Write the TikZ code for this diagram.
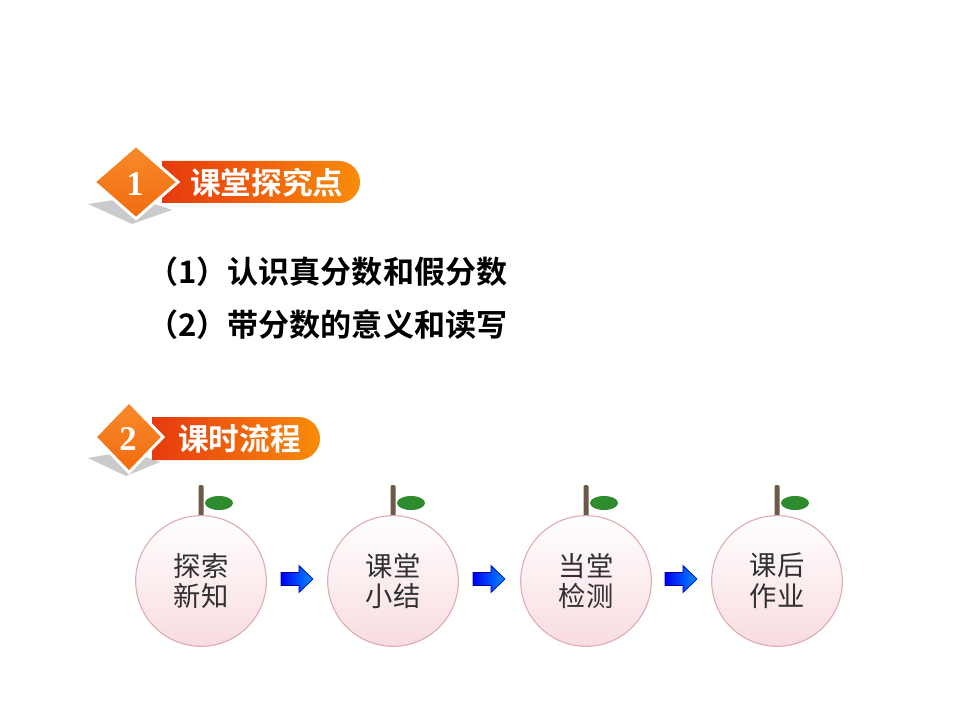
\documentclass[tikz,border=0pt]{standalone}
\usepackage{fontspec}
\newfontfamily\cjk{Noto Sans CJK SC}
\newfontfamily\cjkb{Noto Sans CJK SC Bold}
\setmainfont{Liberation Serif}
\usetikzlibrary{shapes.geometric,shadings}
\definecolor{barred}{HTML}{E63A0E}
\definecolor{barorange}{HTML}{F98C0A}
\definecolor{diaor}{HTML}{F26A0E}
\definecolor{diaor2}{HTML}{F78C2C}
\definecolor{pinkedge}{HTML}{E2A9AE}
\definecolor{pinkfill}{HTML}{F8DCE0}
\definecolor{stem}{HTML}{6B5A4A}
\definecolor{leaf}{HTML}{2E8B2E}
\definecolor{txtgray}{HTML}{303030}
\tikzset{
  bartitle/.style={text=white,font=\cjkb\fontsize{23}{26}\selectfont,anchor=west,inner sep=0},
  digit/.style={text=white,font=\bfseries\fontsize{26}{28}\selectfont,inner sep=0},
  item/.style={text=black,font=\cjkb\fontsize{23.3}{26}\selectfont,anchor=west,inner sep=0},
  diam/.style={diamond,draw=white,line width=2.2pt,top color=diaor2,bottom color=diaor,inner sep=0},
  fruit/.style={circle,minimum size=98pt,draw=pinkedge,line width=0.8pt,top color=white,bottom color=pinkfill,
     text=txtgray,font=\cjk\fontsize{20.5}{26}\selectfont,align=center,inner sep=0},
  bluearrow/.style={draw=blue!70!black,line width=0.5pt,left color=blue!95!black,right color=blue!45!cyan},
}
\begin{document}
\begin{tikzpicture}[x=0.75pt,y=-0.75pt]
\useasboundingbox (0,0) rectangle (960,720);
\fill[white] (0,0) rectangle (960,720);
% ---------- banner 1
\fill[gray!50,opacity=0.8] (88,204) -- (134,197) -- (172,210) -- (132,224) -- cycle;
\shade[left color=barred,right color=barorange]
  (162,161) -- (339,161) arc[start angle=90,end angle=-90,x radius=21,y radius=-21] -- (162,203) -- cycle;
\node[diam,minimum width=64pt,minimum height=56pt] (d1) at (136,182) {};
\node[digit] (n1) at (135,184) {1};
\node[bartitle] (t1) at (190,183) {课堂探究点};
% ---------- items
\node[item] (i1) at (147,272) {（1）认识真分数和假分数};
\node[item] (i2) at (147,325) {（2）带分数的意义和读写};
% ---------- banner 2
\fill[gray!50,opacity=0.8] (88,458) -- (128,451) -- (160,462) -- (126,476) -- cycle;
\shade[left color=barred,right color=barorange]
  (152,417) -- (298.5,417) arc[start angle=90,end angle=-90,x radius=21.5,y radius=-21.5] -- (152,460) -- cycle;
\node[diam,minimum width=52pt,minimum height=54pt] (d2) at (129,437) {};
\node[digit] (n2) at (128,439) {2};
\node[bartitle] (t2) at (178,439) {课时流程};
% ---------- fruits
\foreach \i/\x/\a/\b in {1/201/探索/新知,2/393/课堂/小结,3/586/当堂/检测,4/777/课后/作业}{
  \fill[stem,rounded corners=1pt] (\x-2.5,485) rectangle (\x+2.5,516);
  \fill[leaf] (\x+18,503) ellipse[x radius=14,y radius=7];
  \node[fruit] (f\i) at (\x,581) {\a\\[-3pt]\b};
}
\foreach \i/\x in {1/297,2/489,3/681}{
  \coordinate (a\i) at (\x,579);
  \path[bluearrow] ([shift={(-16,-6.5)}]a\i) -- ([shift={(2,-6.5)}]a\i) -- ([shift={(2,-13.5)}]a\i)
     -- ([shift={(16,0)}]a\i) -- ([shift={(2,13.5)}]a\i) -- ([shift={(2,6.5)}]a\i) -- ([shift={(-16,6.5)}]a\i) -- cycle;
}
\end{tikzpicture}
\end{document}
